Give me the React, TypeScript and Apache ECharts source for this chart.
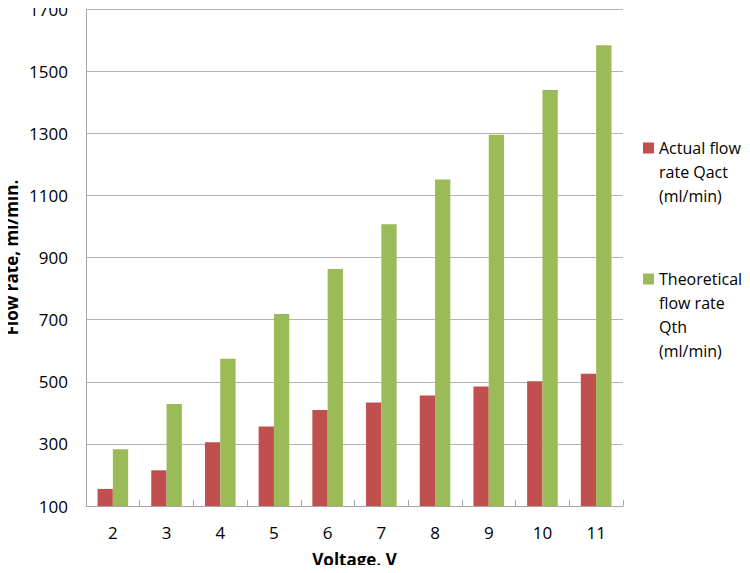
import React, { useEffect, useRef } from "react";
import * as echarts from "echarts";

const categories = ["2", "3", "4", "5", "6", "7", "8", "9", "10", "11"];
const actualFlow = [155, 215, 305, 356, 409, 433, 456, 485, 502, 526];
const theoreticalFlow = [283, 428, 574, 718, 863, 1007, 1151, 1295, 1439, 1583];
const actualName = "Actual flow\nrate Qact\n(ml/min)";
const theoreticalName = "Theoretical\nflow rate\nQth\n(ml/min)";

const FONT = "Open Sans";

// icon: 11x11 square aligned with first text line, box anchored to full text height
function iconFor(lines: number) {
  const h = lines * 24;
  return `path://M0,0L0.01,0M0,${h}L0.01,${h}M0,6.5H11V17.5H0Z`;
}

export default function App() {
  const ref = useRef<HTMLDivElement>(null);
  useEffect(() => {
    if (!ref.current) return;
    const chart = echarts.init(ref.current, undefined, { renderer: "svg" });
    chart.setOption({
      animation: false,
      backgroundColor: "#ffffff",
      textStyle: { fontFamily: FONT },
      grid: {
        left: 86,
        right: 127,
        top: 9,
        bottom: 67,
        containLabel: false,
        outerBoundsMode: "none",
      },
      legend: [
        {
          data: [actualName],
          orient: "vertical",
          left: 643,
          top: 136,
          padding: 0,
          itemWidth: 11,
          itemHeight: 72,
          icon: iconFor(3),
          textStyle: { fontFamily: FONT, fontSize: 16, color: "#000", lineHeight: 24 },
          selectedMode: false,
        },
        {
          data: [theoreticalName],
          orient: "vertical",
          left: 643,
          top: 267,
          padding: 0,
          itemWidth: 11,
          itemHeight: 96,
          icon: iconFor(4),
          textStyle: { fontFamily: FONT, fontSize: 16, color: "#000", lineHeight: 24 },
          selectedMode: false,
        },
      ],
      xAxis: {
        type: "category",
        data: categories,
        name: "Voltage, V",
        nameLocation: "middle",
        nameGap: 44,
        nameMoveOverlap: false,
        nameTextStyle: {
          fontFamily: FONT,
          fontSize: 17,
          fontWeight: "bold",
          color: "#000",
          lineHeight: 18,
        },
        axisLine: { lineStyle: { color: "#a6a6a6", width: 1 } },
        axisTick: { show: true, inside: true, length: 6, lineStyle: { color: "#a6a6a6" } },
        axisLabel: { fontFamily: FONT, fontSize: 17, color: "#000", margin: 18 },
      },
      yAxis: {
        type: "value",
        min: 100,
        max: 1700,
        interval: 200,
        name: "Flow rate, ml/min.",
        nameLocation: "middle",
        nameGap: 66,
        nameMoveOverlap: false,
        nameTextStyle: {
          fontFamily: FONT,
          fontSize: 17,
          fontWeight: "bold",
          color: "#000",
          lineHeight: 18,
        },
        axisLine: { show: true, lineStyle: { color: "#a6a6a6", width: 1 } },
        axisTick: { show: false },
        axisLabel: {
          fontFamily: FONT,
          fontSize: 17,
          color: "#000",
          margin: 18,
          lineHeight: 14,
          formatter: (v: number) => String(v),
        },
        splitLine: { lineStyle: { color: "#b3b3b3", width: 1 } },
      },
      series: [
        {
          name: actualName,
          type: "bar",
          data: actualFlow,
          barGap: "0%",
          barCategoryGap: "43%",
          itemStyle: { color: "#C0504D" },
        },
        {
          name: theoreticalName,
          type: "bar",
          data: theoreticalFlow,
          barGap: "0%",
          barCategoryGap: "43%",
          itemStyle: { color: "#9BBB59" },
        },
      ],
    });
    return () => chart.dispose();
  }, []);
  return <div ref={ref} style={{ width: 750, height: 573, margin: -8 }} />;
}
